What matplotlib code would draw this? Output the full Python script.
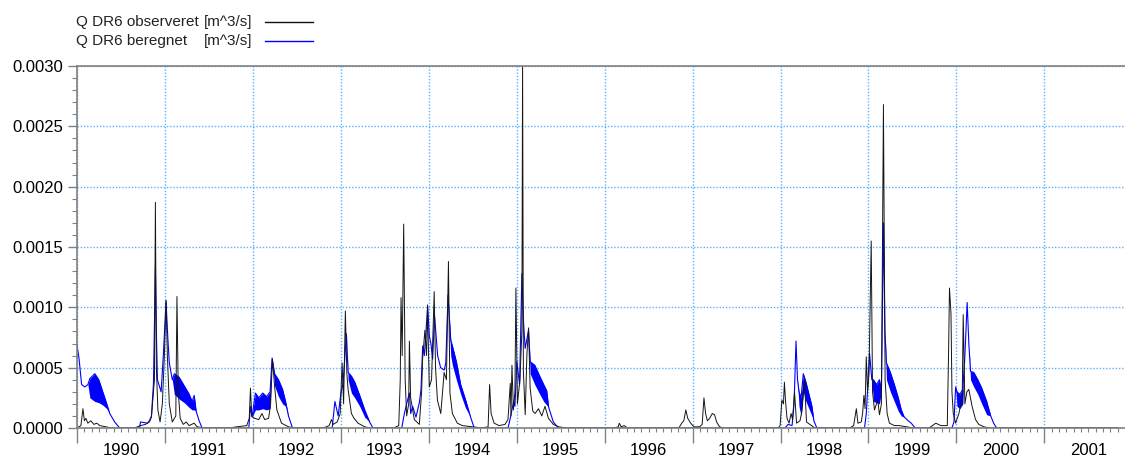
import numpy as np
import matplotlib
matplotlib.use("Agg")
import matplotlib.pyplot as plt
from matplotlib.lines import Line2D

plt.rcParams["font.family"] = ["Liberation Sans", "DejaVu Sans"]

# Q DR6 observeret, time in decimal years
obs_t = [
    1990.000, 1990.045, 1990.068, 1990.085, 1990.102, 1990.124, 1990.158, 1990.192,
    1990.226, 1990.260, 1990.327, 1990.395,
    1990.655, 1990.723, 1990.779, 1990.824, 1990.847, 1990.870, 1990.881, 1990.892,
    1990.903, 1990.920, 1990.945, 1990.971, 1990.994, 1991.013, 1991.028, 1991.050,
    1991.084, 1991.124, 1991.137, 1991.152, 1991.174, 1991.208, 1991.242, 1991.276,
    1991.333, 1991.366, 1991.446,
    1991.728, 1991.818, 1991.931, 1991.959, 1991.973, 1991.988, 1992.021, 1992.067,
    1992.104, 1992.134, 1992.179, 1992.202, 1992.222, 1992.247, 1992.273, 1992.326,
    1992.405, 1992.473,
    1992.801, 1992.868, 1992.894, 1992.914, 1992.959, 1992.993, 1993.015, 1993.032,
    1993.052, 1993.069, 1993.083, 1993.121, 1993.151, 1993.196, 1993.272, 1993.331,
    1993.602, 1993.659, 1993.676, 1993.685, 1993.698, 1993.715, 1993.732, 1993.749,
    1993.772, 1993.780, 1993.794, 1993.836, 1993.893, 1993.919, 1993.930, 1993.956,
    1993.975, 1993.986, 1994.006, 1994.032, 1994.062, 1994.077, 1994.099, 1994.137,
    1994.175, 1994.201, 1994.224, 1994.241, 1994.269, 1994.325, 1994.382, 1994.495,
    1994.608, 1994.675, 1994.692, 1994.709, 1994.743, 1994.800, 1994.867, 1994.901,
    1994.927, 1994.935, 1994.946, 1994.963, 1994.980, 1994.991, 1995.008, 1995.037,
    1995.059, 1995.067, 1995.076, 1995.097, 1995.116, 1995.135, 1995.153, 1995.183,
    1995.209, 1995.248, 1995.285, 1995.322, 1995.361, 1995.417, 1995.477, 1995.567,
    1996.110, 1996.155, 1996.166, 1996.189, 1996.222, 1996.256,
    1996.843, 1996.877, 1996.900, 1996.923, 1996.945, 1996.979, 1997.013, 1997.081,
    1997.109, 1997.129, 1997.148, 1997.168, 1997.194, 1997.224, 1997.250, 1997.273,
    1997.307, 1997.352,
    1997.973, 1997.995, 1998.015, 1998.033, 1998.044, 1998.057, 1998.074, 1998.097,
    1998.120, 1998.137, 1998.159, 1998.182, 1998.221, 1998.244, 1998.272, 1998.295,
    1998.334, 1998.391,
    1998.786, 1998.831, 1998.862, 1998.880, 1998.918, 1998.933, 1998.948, 1998.961,
    1998.975, 1998.989, 1999.006, 1999.031, 1999.046, 1999.068, 1999.105, 1999.125,
    1999.147, 1999.170, 1999.189, 1999.212, 1999.238, 1999.294, 1999.351, 1999.430,
    1999.520,
    1999.689, 1999.765, 1999.822, 1999.896, 1999.910, 1999.921, 1999.938, 1999.949,
    1999.964, 1999.991, 2000.028, 2000.066, 2000.077, 2000.096, 2000.119, 2000.141,
    2000.178, 2000.217, 2000.254, 2000.311, 2000.378,
    2001.835,
]
obs_q = [
    0.0, 0.00002, 0.00016, 0.00006, 0.00008, 0.00004, 0.00006, 0.00003,
    0.00004, 0.00002, 0.00001, 0.0,
    0.0, 0.00002, 0.00003, 0.00005, 0.00009, 0.00030, 0.00040, 0.00187,
    0.00050, 0.00015, 0.00005, 0.00020, 0.00060, 0.00106, 0.00060, 0.00020,
    0.00005, 0.00010, 0.00109, 0.00030, 0.00008, 0.00003, 0.00005, 0.00002,
    0.00004, 0.00001, 0.0,
    0.0, 0.00001, 0.00002, 0.00008, 0.00033, 0.00010, 0.00008, 0.00007,
    0.00012, 0.00007, 0.00008, 0.00020, 0.00057, 0.00035, 0.00015, 0.00004,
    0.00001, 0.0,
    0.0, 0.00002, 0.00007, 0.00003, 0.00005, 0.00012, 0.00054, 0.00020,
    0.00097, 0.00045, 0.00032, 0.00012, 0.00008, 0.00004, 0.00001, 0.0,
    0.0, 0.00002, 0.00040, 0.00108, 0.00060, 0.00169, 0.00040, 0.00010,
    0.00020, 0.00072, 0.00025, 0.00007, 0.00003, 0.00030, 0.00057, 0.00081,
    0.00060, 0.00102, 0.00034, 0.00040, 0.00113, 0.00050, 0.00023, 0.00012,
    0.00046, 0.00040, 0.00138, 0.00029, 0.00012, 0.00004, 0.00002, 0.00001,
    0.0, 0.00001, 0.00036, 0.00012, 0.00004, 0.00002, 0.00003, 0.00007,
    0.00037, 0.00010, 0.00052, 0.00015, 0.00030, 0.00116, 0.00020, 0.00040,
    0.00080, 0.00305, 0.00047, 0.00011, 0.00061, 0.00083, 0.00033, 0.00014,
    0.00012, 0.00016, 0.00010, 0.00018, 0.00008, 0.00003, 0.00001, 0.0,
    0.0, 0.00001, 0.00004, 0.00001, 0.00002, 0.0,
    0.0, 0.00004, 0.00006, 0.00015, 0.00008, 0.00004, 0.00001, 0.00001,
    0.00003, 0.00025, 0.00012, 0.00006, 0.00008, 0.00012, 0.00011, 0.00005,
    0.00001, 0.0,
    0.0, 0.00002, 0.00023, 0.00020, 0.00038, 0.00022, 0.00008, 0.00004,
    0.00012, 0.00007, 0.00030, 0.00004, 0.00006, 0.00014, 0.00040, 0.00005,
    0.00003, 0.0,
    0.0, 0.00002, 0.00016, 0.00004, 0.00005, 0.00012, 0.00027, 0.00016,
    0.00059, 0.00030, 0.00045, 0.00155, 0.00030, 0.00015, 0.00023, 0.00011,
    0.00020, 0.00268, 0.00040, 0.00012, 0.00004, 0.00002, 0.00002, 0.00001,
    0.0,
    0.0, 0.00004, 0.00002, 0.00002, 0.00060, 0.00116, 0.00095, 0.00030,
    0.00012, 0.00004, 0.00012, 0.00026, 0.00094, 0.00020, 0.00030, 0.00032,
    0.00018, 0.00007, 0.00003, 0.00001, 0.0,
    0.0,
]

# Q DR6 beregnet (upper edge) and lower edge of the daily oscillation band
sim_t = [
    1990.000, 1990.023, 1990.053, 1990.090, 1990.124, 1990.147, 1990.203, 1990.248,
    1990.294, 1990.339, 1990.373, 1990.429, 1990.486,
    1990.711, 1990.723, 1990.802, 1990.824, 1990.847, 1990.870, 1990.892, 1990.903,
    1990.915, 1990.957, 1990.982, 1991.013, 1991.033, 1991.050, 1991.084, 1991.107,
    1991.163, 1991.220, 1991.276, 1991.310, 1991.333, 1991.355, 1991.389, 1991.423,
    1991.954, 1991.973, 1991.991, 1992.029, 1992.067, 1992.112, 1992.157, 1992.196,
    1992.219, 1992.247, 1992.292, 1992.338, 1992.372, 1992.405, 1992.451,
    1992.902, 1992.933, 1992.970, 1993.001, 1993.026, 1993.064, 1993.083, 1993.121,
    1993.159, 1993.215, 1993.272, 1993.328, 1993.365,
    1993.693, 1993.723, 1993.752, 1993.780, 1993.795, 1993.817, 1993.855, 1993.893,
    1993.912, 1993.931, 1993.950, 1993.988, 1994.007, 1994.025, 1994.044, 1994.066,
    1994.101, 1994.135, 1994.176, 1994.194, 1994.219, 1994.250, 1994.269, 1994.314,
    1994.363, 1994.416, 1994.476, 1994.517,
    1994.901, 1994.927, 1994.965, 1994.980, 1995.002, 1995.033, 1995.059, 1995.076,
    1995.096, 1995.135, 1995.153, 1995.206, 1995.262, 1995.307, 1995.341, 1995.364,
    1995.417, 1995.473,
    1998.052, 1998.086, 1998.131, 1998.154, 1998.176, 1998.193, 1998.210, 1998.233,
    1998.259, 1998.289, 1998.323, 1998.357, 1998.379, 1998.413,
    1998.955, 1998.975, 1999.012, 1999.038, 1999.057, 1999.091, 1999.125, 1999.147,
    1999.170, 1999.187, 1999.204, 1999.249, 1999.294, 1999.339, 1999.373, 1999.407,
    1999.452, 1999.486, 1999.531,
    1999.949, 1999.972, 1999.991, 2000.006, 2000.039, 2000.073, 2000.096, 2000.122,
    2000.141, 2000.160, 2000.198, 2000.243, 2000.288, 2000.344, 2000.390, 2000.423,
    2000.457,
    2001.835,
]
sim_q = [
    0.00069, 0.00058, 0.00036, 0.00034, 0.00036, 0.00041, 0.00045, 0.00040,
    0.00030, 0.00020, 0.00012, 0.00005, 0.0,
    0.0, 0.00005, 0.00004, 0.00006, 0.00010, 0.00037, 0.00134, 0.00080,
    0.00040, 0.00030, 0.00060, 0.00105, 0.00075, 0.00054, 0.00040, 0.00045,
    0.00042, 0.00035, 0.00028, 0.00022, 0.00027, 0.00014, 0.00006, 0.0,
    0.0, 0.00018, 0.00009, 0.00029, 0.00025, 0.00029, 0.00026, 0.00030,
    0.00058, 0.00045, 0.00040, 0.00032, 0.00022, 0.00010, 0.0,
    0.0, 0.00022, 0.00010, 0.00029, 0.00037, 0.00078, 0.00046, 0.00043,
    0.00038, 0.00027, 0.00015, 0.00005, 0.0,
    0.0, 0.00012, 0.00021, 0.00029, 0.00012, 0.00018, 0.00009, 0.00021,
    0.00032, 0.00068, 0.00060, 0.00101, 0.00076, 0.00070, 0.00057, 0.00093,
    0.00060, 0.00050, 0.00048, 0.00054, 0.00110, 0.00073, 0.00068, 0.00055,
    0.00036, 0.00024, 0.00009, 0.0,
    0.0, 0.00008, 0.00022, 0.00018, 0.00055, 0.00036, 0.00128, 0.00090,
    0.00066, 0.00081, 0.00055, 0.00052, 0.00043, 0.00036, 0.00031, 0.00017,
    0.00005, 0.0,
    0.0, 0.00003, 0.00002, 0.00020, 0.00072, 0.00040, 0.00030, 0.00025,
    0.00045, 0.00038, 0.00028, 0.00018, 0.00006, 0.0,
    0.0, 0.00012, 0.00062, 0.00040, 0.00040, 0.00036, 0.00040, 0.00030,
    0.00170, 0.00080, 0.00054, 0.00046, 0.00036, 0.00025, 0.00015, 0.00009,
    0.00006, 0.00004, 0.0,
    0.0, 0.00005, 0.00034, 0.00030, 0.00028, 0.00032, 0.00060, 0.00104,
    0.00070, 0.00047, 0.00046, 0.00040, 0.00033, 0.00022, 0.00010, 0.00004,
    0.0,
    0.0,
]
sim_lo = [
    None, None, None, None, None, 0.00025, 0.00022, 0.00021,
    0.00019, 0.00016, None, None, None,
    None, None, None, None, None, None, None, None,
    None, None, None, None, None, None, None, 0.00028,
    0.00024, 0.00021, 0.00017, 0.00015, 0.00015, None, None, None,
    None, None, None, 0.00015, 0.00015, 0.00016, 0.00015, 0.00016,
    None, 0.00035, 0.00026, 0.00020, 0.00018, None, None,
    None, None, None, None, None, None, 0.00040, 0.00029,
    0.00025, 0.00018, 0.00009, None, None,
    None, None, None, None, None, None, None, None,
    None, None, None, None, None, None, None, None,
    None, None, None, None, None, 0.00060, 0.00052, 0.00040,
    0.00028, 0.00017, None, None,
    None, None, None, None, None, None, None, None,
    None, None, 0.00045, 0.00036, 0.00028, 0.00022, 0.00019, None,
    None, None,
    None, None, None, None, None, None, 0.00018, 0.00010,
    0.00030, 0.00022, 0.00016, 0.00010, None, None,
    None, None, None, None, 0.00022, 0.00021, 0.00020, None,
    None, None, 0.00040, 0.00030, 0.00022, 0.00014, 0.00010, None,
    None, None, None,
    None, None, None, 0.00018, 0.00016, 0.00020, None, None,
    None, 0.00040, 0.00034, 0.00028, 0.00020, 0.00011, None, None,
    None,
    None,
]

years = list(range(1990, 2002))
yticks = [0.0, 0.0005, 0.0010, 0.0015, 0.0020, 0.0025, 0.0030]

sim_hi = np.array(sim_q)
sim_low = np.array([q if lo is None else lo for q, lo in zip(sim_q, sim_lo)])

fig = plt.figure(figsize=(11.25, 4.58), dpi=100)
ax = fig.add_axes([0.0684, 0.0655, 0.9316, 0.7904])

grid_col = "#5ab0ff"
axis_col = "#808080"

ax.fill_between(sim_t, sim_low, sim_hi, color="#0000ff", lw=0, zorder=2)
ax.plot(sim_t, sim_q, color="#0000ff", lw=0.8, zorder=2)
ax.plot(obs_t, obs_q, color="#151515", lw=0.7, zorder=3)

ax.set_xlim(1990.0, 2001.835)
ax.set_ylim(0, 0.003)

# x axis: long ticks at year boundaries, short monthly ticks
ax.set_xticks(years)
ax.set_xticklabels([])
ax.set_xticks([y + m / 12 for y in years for m in range(1, 12)], minor=True)
ax.tick_params(axis="x", which="major", length=11, width=1, color=axis_col)
ax.tick_params(axis="x", which="minor", length=3, width=0.8, color=axis_col)

# year labels centred in each year
sec = ax.secondary_xaxis("bottom")
sec.set_xticks([y + 0.5 for y in years], labels=[str(y) for y in years])
sec.tick_params(length=0, pad=10.5, labelsize=12)
sec.spines["bottom"].set_visible(False)

ax.set_yticks(yticks)
ax.set_yticklabels([f"{v:.4f}" for v in yticks])
ax.set_yticks(np.arange(0, 0.00301, 0.0001), minor=True)
ax.tick_params(axis="y", which="major", length=6.5, width=1, color=axis_col, pad=3.5, labelsize=12)
ax.tick_params(axis="y", which="minor", length=3.5, width=0.8, color=axis_col)

ax.grid(True, which="major", color=grid_col, lw=1, linestyle=(0, (1, 1.3)))

for side in ["left", "bottom", "top"]:
    ax.spines[side].set_color(axis_col)
    ax.spines[side].set_linewidth(1.2)
    ax.spines[side].set_zorder(4)
ax.spines["right"].set_visible(False)

# legend drawn at the top left
W, H = 1125, 458
rows = [("Q DR6 observeret", "#111111", 22), ("Q DR6 beregnet", "#0000ff", 41)]
for name, col, py in rows:
    fig.text(76 / W, 1 - py / H, name, fontsize=11, va="center", ha="left", color="#222222")
    fig.text(204 / W, 1 - py / H, "[m^3/s]", fontsize=11, va="center", ha="left", color="#222222")
    fig.add_artist(Line2D([265 / W, 313 / W], [1 - py / H, 1 - py / H], color=col, lw=1))

fig.savefig("out.png", dpi=100)
